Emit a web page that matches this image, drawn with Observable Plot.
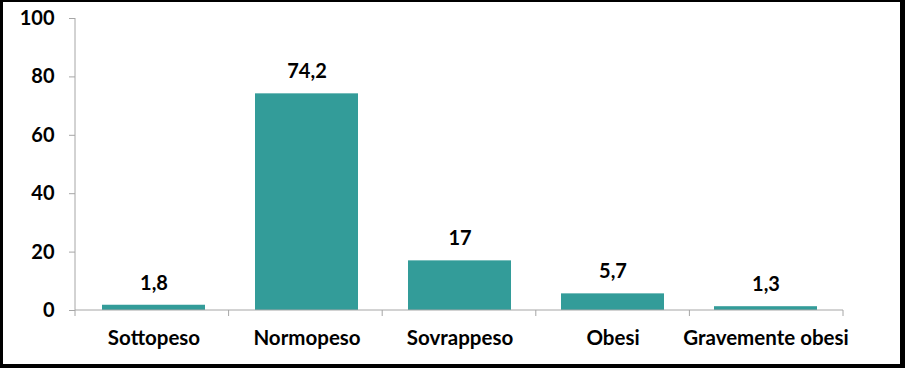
<!DOCTYPE html>
<html>
<head>
<meta charset="utf-8">
<script src="https://cdn.jsdelivr.net/npm/d3@7"></script>
<script src="https://cdn.jsdelivr.net/npm/@observablehq/plot@0.6"></script>
<style>
  html, body { margin: 0; padding: 0; background: #fff; }
  #wrap { position: relative; width: 905px; height: 368px; overflow: hidden; background: #fff; }
  #frame { position: absolute; left: 0; top: 0; width: 905px; height: 368px; box-sizing: border-box;
           border-style: solid; border-color: #000; border-width: 2px 5px 4px 3px; pointer-events: none; }
  svg { display: block; }
</style>
</head>
<body>
<div id="wrap"><div id="frame"></div></div>
<script>
const categories = ["Sottopeso", "Normopeso", "Sovrappeso", "Obesi", "Gravemente obesi"];
const values = [1.8, 74.2, 17, 5.7, 1.3];
const yTicks = [0, 20, 40, 60, 80, 100];

const data = categories.map((c, i) => ({category: c, value: values[i]}));
const fmt = v => v.toLocaleString("it-IT");
const FONT = "Lato, 'Open Sans', sans-serif";
const AXIS = "#a6a6a6";

const plot = Plot.plot({
  width: 905,
  height: 368,
  marginLeft: 75,
  marginRight: 62,
  marginTop: 18,
  marginBottom: 58,
  style: {fontFamily: FONT, fontSize: "20px", fontWeight: "bold", color: "#000", background: "transparent"},
  x: {domain: categories, paddingInner: 0.33, paddingOuter: 0.165, label: null},
  y: {domain: [0, 100], label: null},
  marks: [
    Plot.barY(data, {x: "category", y: "value", fill: "#339c99"}),
    Plot.text(data, {x: "category", y: "value", text: d => fmt(d.value), dy: -22, fill: "#000",
                     fontSize: 20, fontWeight: "bold"}),
    Plot.axisY({ticks: yTicks, tickSize: 6, tickPadding: 15, stroke: AXIS, fill: "#000",
                fontSize: 20, fontWeight: "bold", label: null}),
    Plot.axisX({tickSize: 0, tickPadding: 20, fill: "#000", fontSize: 20.5, fontWeight: "bold", label: null})
  ]
});

// left axis line, baseline and category-boundary ticks derived from the scales
const svg = d3.select(plot);
const xs = plot.scale("x");
const ys = plot.scale("y");
const xScale = d3.scaleBand().domain(xs.domain).range(xs.range).paddingInner(xs.paddingInner ?? 0.33).paddingOuter(xs.paddingOuter ?? 0.165);
const yScale = d3.scaleLinear().domain(ys.domain).range(ys.range);
const gap = xScale.step() - xScale.bandwidth();
const y0 = yScale(0);
const boundaries = [xScale(categories[0]) - gap / 2].concat(categories.map(c => xScale(c) + xScale.bandwidth() + gap / 2));
const g = svg.append("g").attr("stroke", AXIS).attr("fill", "none");
g.append("line").attr("x1", boundaries[0]).attr("x2", boundaries[0]).attr("y1", yScale(100)).attr("y2", y0);
g.append("line").attr("x1", boundaries[0]).attr("x2", boundaries[boundaries.length - 1]).attr("y1", y0).attr("y2", y0);
boundaries.forEach(b => g.append("line").attr("x1", b).attr("x2", b).attr("y1", y0).attr("y2", y0 + 6));

document.getElementById("wrap").insertBefore(plot, document.getElementById("frame"));
</script>
</body>
</html>
